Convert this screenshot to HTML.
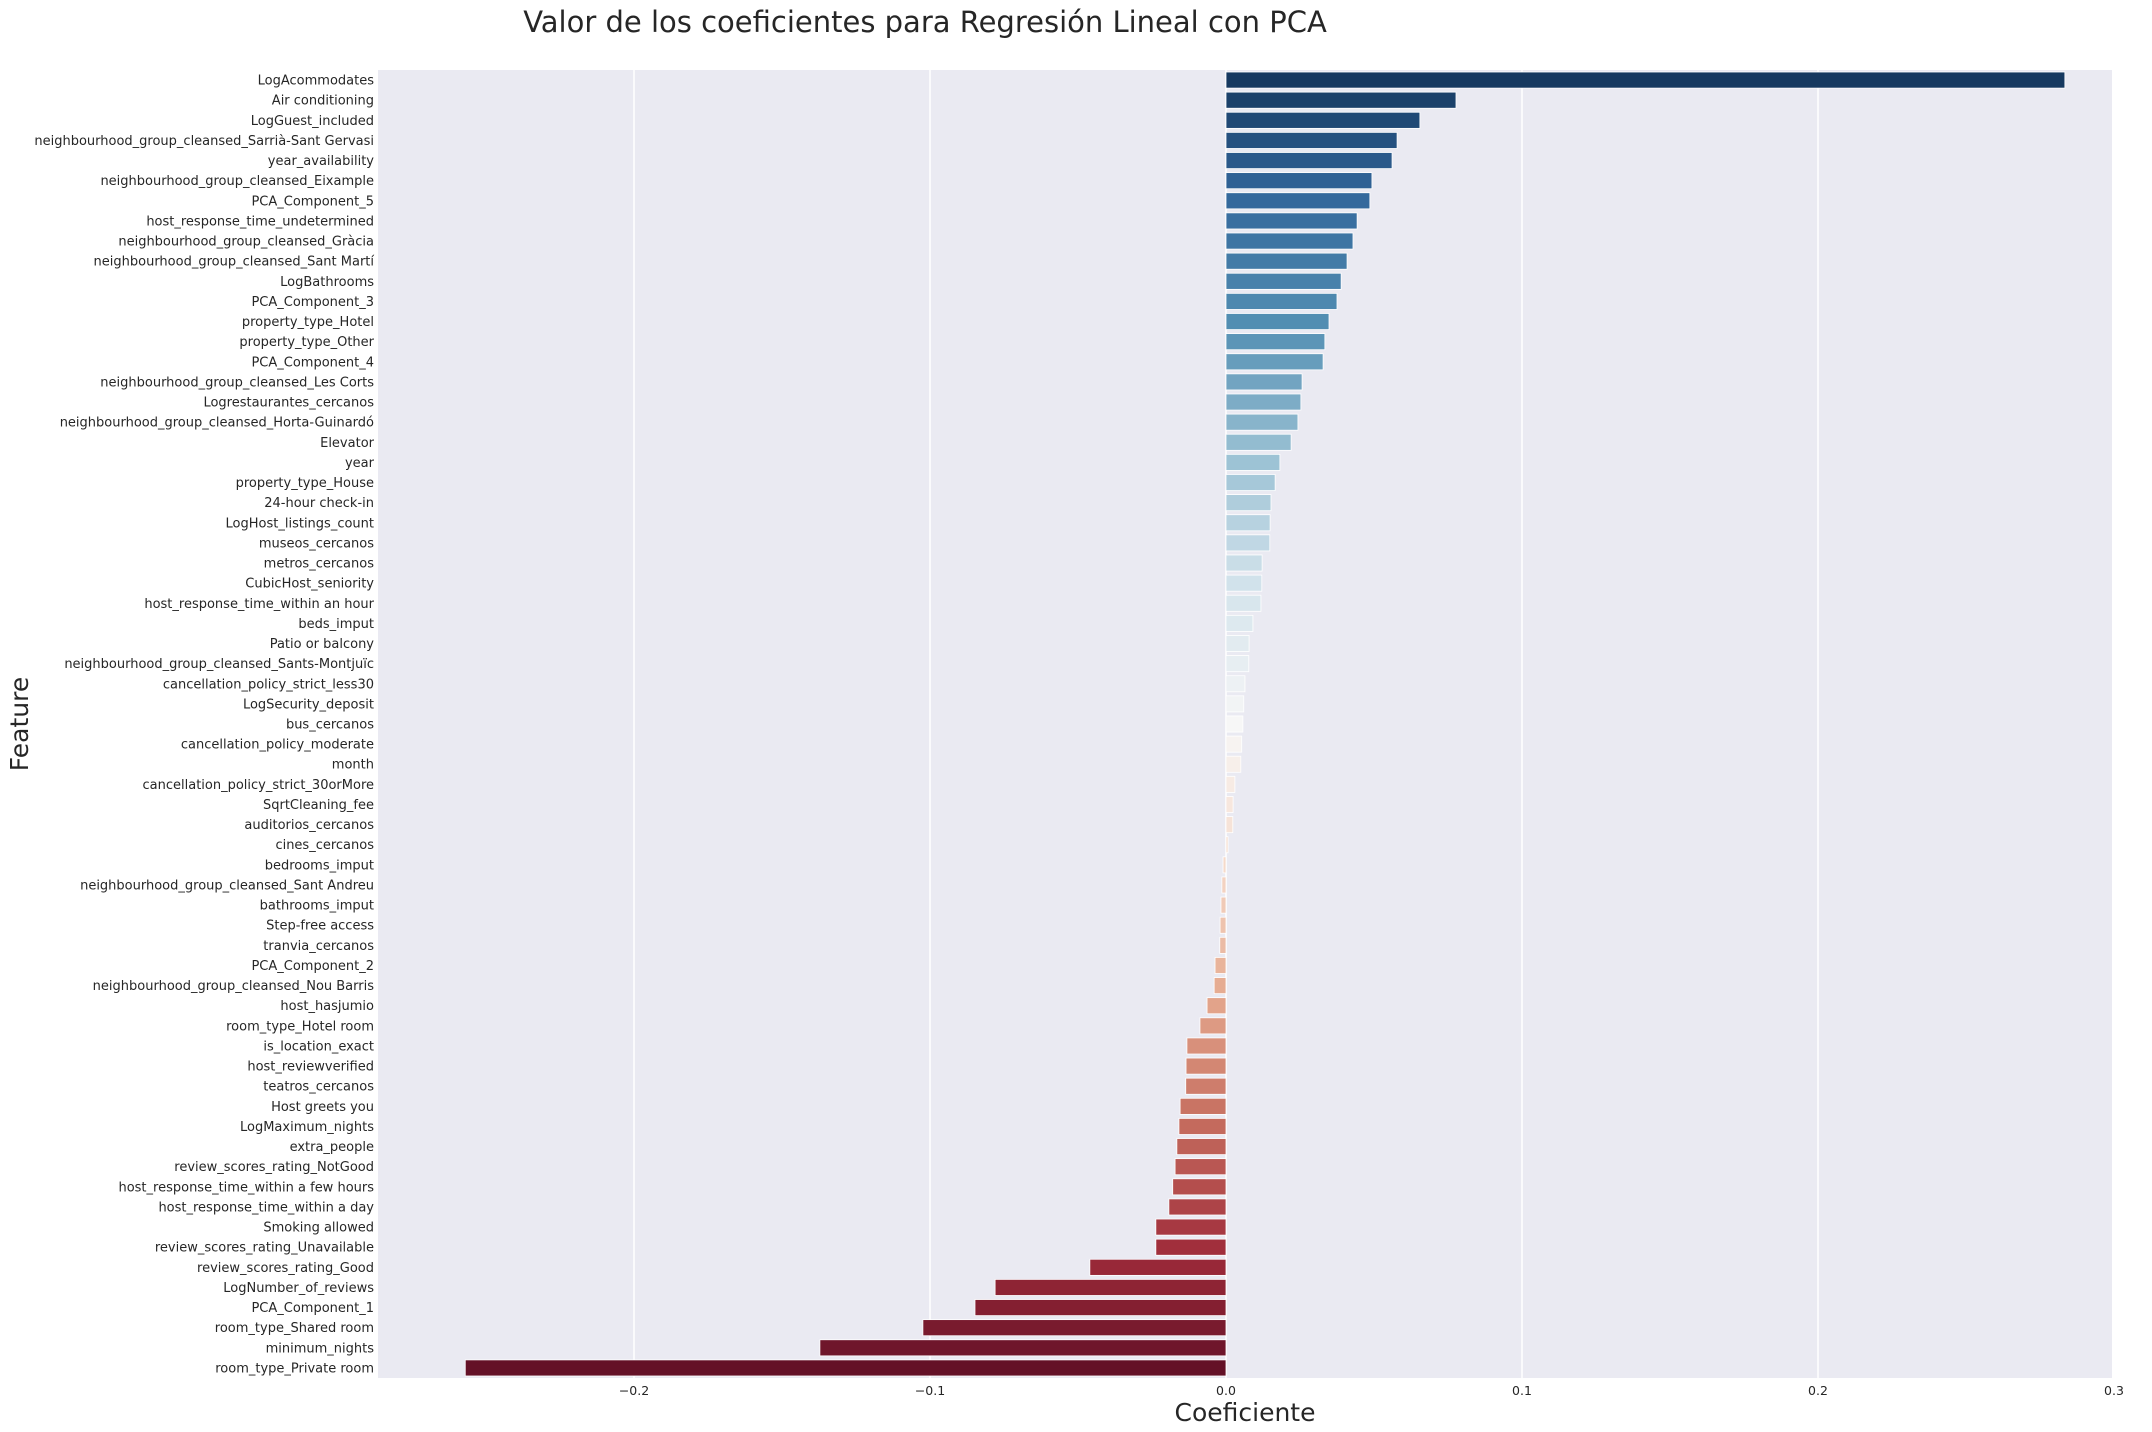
<!DOCTYPE html>
<html><head><meta charset="utf-8"><style>
body{margin:0;background:#fff;}
svg{display:block;font-family:"DejaVu Sans","Liberation Sans",sans-serif;}
</style></head><body>
<svg id="chart" width="2152" height="1432" viewBox="0 0 2152 1432">
<rect x="378" y="70" width="1734" height="1308" fill="#eaeaf2"/>
<g id="grid"></g><g id="bars"></g><g id="ylabels"></g><g id="xticks"></g>
<text x="925" y="32" font-size="29" text-anchor="middle" fill="#262626">Valor de los coeficientes para Regresión Lineal con PCA</text>
<text x="1245" y="1421" font-size="25" text-anchor="middle" fill="#262626">Coeficiente</text>
<text x="0" y="0" font-size="25" text-anchor="middle" fill="#262626" transform="translate(28,724) rotate(-90)">Feature</text>
</svg>
<script>
const features=["LogAcommodates","Air conditioning","LogGuest_included","neighbourhood_group_cleansed_Sarrià-Sant Gervasi","year_availability","neighbourhood_group_cleansed_Eixample","PCA_Component_5","host_response_time_undetermined","neighbourhood_group_cleansed_Gràcia","neighbourhood_group_cleansed_Sant Martí","LogBathrooms","PCA_Component_3","property_type_Hotel","property_type_Other","PCA_Component_4","neighbourhood_group_cleansed_Les Corts","Logrestaurantes_cercanos","neighbourhood_group_cleansed_Horta-Guinardó","Elevator","year","property_type_House","24-hour check-in","LogHost_listings_count","museos_cercanos","metros_cercanos","CubicHost_seniority","host_response_time_within an hour","beds_imput","Patio or balcony","neighbourhood_group_cleansed_Sants-Montjuïc","cancellation_policy_strict_less30","LogSecurity_deposit","bus_cercanos","cancellation_policy_moderate","month","cancellation_policy_strict_30orMore","SqrtCleaning_fee","auditorios_cercanos","cines_cercanos","bedrooms_imput","neighbourhood_group_cleansed_Sant Andreu","bathrooms_imput","Step-free access","tranvia_cercanos","PCA_Component_2","neighbourhood_group_cleansed_Nou Barris","host_hasjumio","room_type_Hotel room","is_location_exact","host_reviewverified","teatros_cercanos","Host greets you","LogMaximum_nights","extra_people","review_scores_rating_NotGood","host_response_time_within a few hours","host_response_time_within a day","Smoking allowed","review_scores_rating_Unavailable","review_scores_rating_Good","LogNumber_of_reviews","PCA_Component_1","room_type_Shared room","minimum_nights","room_type_Private room"];
const coefs=[0.2834,0.0777,0.0655,0.0578,0.0561,0.0493,0.0486,0.0443,0.0429,0.0409,0.0389,0.0375,0.0348,0.0334,0.0328,0.0257,0.0253,0.0243,0.022,0.0182,0.0166,0.0152,0.0149,0.0148,0.0122,0.0121,0.0118,0.0091,0.0078,0.0077,0.0064,0.006,0.0057,0.0053,0.005,0.003,0.0024,0.0023,0.0007,-0.001,-0.0014,-0.0017,-0.002,-0.0021,-0.0037,-0.004,-0.0064,-0.0088,-0.0132,-0.0135,-0.0136,-0.0155,-0.0159,-0.0166,-0.0172,-0.018,-0.0193,-0.0237,-0.0237,-0.046,-0.078,-0.0848,-0.1024,-0.1372,-0.257];
const xTicks=[-0.2,-0.1,0.0,0.1,0.2,0.3];
const xTickLabels=["−0.2","−0.1","0.0","0.1","0.2","0.3"];
const NS="http://www.w3.org/2000/svg";
const plotTop=70,plotH=1308,plotL=378,plotR=2112;
function x(v){return 1226+v*2960;}
const band=plotH/features.length;
function y(i){return plotTop+i*band;}
const stops=["#053061","#2166ac","#4393c3","#92c5de","#d1e5f0","#f7f7f7","#fddbc7","#f4a582","#d6604d","#b2182b","#67001f"];
function hex(h){return [1,3,5].map(k=>parseInt(h.substr(k,2),16)/255);}
function desat(c,s){
  const [r,g,b]=c,mx=Math.max(r,g,b),mn=Math.min(r,g,b),l=(mx+mn)/2;
  if(mx===mn)return c;
  const d=mx-mn;let sat=l>0.5?d/(2-mx-mn):d/(mx+mn);let h;
  if(mx===r)h=((g-b)/d+(g<b?6:0));else if(mx===g)h=(b-r)/d+2;else h=(r-g)/d+4;h/=6;
  sat*=s;
  const q=l<0.5?l*(1+sat):l+sat-l*sat,p=2*l-q;
  function f(t){if(t<0)t+=1;if(t>1)t-=1;if(t<1/6)return p+(q-p)*6*t;if(t<1/2)return q;if(t<2/3)return p+(q-p)*(2/3-t)*6;return p;}
  return [f(h+1/3),f(h),f(h-1/3)];
}
function color(t){t=0.015+t*0.97;const p=t*(stops.length-1),k=Math.min(Math.floor(p),stops.length-2),fr=p-k;const a=hex(stops[k]),b=hex(stops[k+1]);const c=desat(a.map((v,j)=>v+(b[j]-v)*fr),0.75);return "rgb("+c.map(v=>Math.round(v*255)).join(",")+")";}
function mk(tag,attrs,parent){const e=document.createElementNS(NS,tag);for(const k in attrs)e.setAttribute(k,attrs[k]);document.getElementById(parent).appendChild(e);return e;}
xTicks.forEach((v,i)=>{
  const g=mk("line",{x1:x(v),x2:x(v),y1:plotTop,y2:plotTop+plotH,stroke:"#fff","stroke-width":1.5},"grid");
  
  
  const t=mk("text",{x:x(v),y:1395,"font-size":12.5,"text-anchor":"middle",fill:"#262626"},"xticks");
  t.textContent=xTickLabels[i];
  
  
});
features.forEach((f,i)=>{
  const v=coefs[i],bh=band*0.8,by=y(i)+band*0.1;
  const r=mk("rect",{x:Math.min(x(0),x(v)),y:by,width:Math.abs(x(v)-x(0)),height:bh,fill:color(i/(features.length-1)),stroke:"#fff","stroke-width":0.8},"bars");
  
  
  const t=mk("text",{x:plotL-4,y:y(i)+band/2+4.5,"font-size":13,"text-anchor":"end",fill:"#262626"},"ylabels");
  t.textContent=f;
  
  
});
</script>
</body></html>
